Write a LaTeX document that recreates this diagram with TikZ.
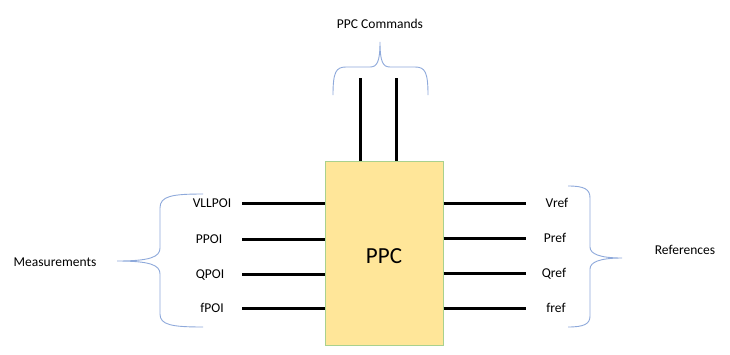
\documentclass[tikz,border=0pt]{standalone}
\usepackage{fontspec}
\setmainfont{Carlito}
\definecolor{boxfill}{HTML}{FFE699}
\definecolor{boxline}{HTML}{A9D18E}
\definecolor{bracecol}{HTML}{8EA9DB}
\begin{document}
\begin{tikzpicture}[x=1pt,y=-1pt,
  lbl/.style={font=\fontsize{13.5}{16}\selectfont, inner sep=0pt, anchor=base},
  sig/.style={line width=3pt, black},
  brc/.style={line width=0.9pt, bracecol}]
\useasboundingbox[fill=white] (0,0) rectangle (730,354);
% main block
\node[draw=boxline, fill=boxfill, line width=1pt, minimum width=118pt, minimum height=184pt, inner sep=0pt] (box) at (384,253) {};
\node[font=\fontsize{23}{26}\selectfont, inner sep=0pt] (ppc) at (384,256) {PPC};
% top commands
\node[lbl] (cmd) at (380,28) {PPC Commands};
\coordinate (c1) at (360,78);
\coordinate (c2) at (396,78);
\draw[sig] (c1) -- (c1 |- box.north);
\draw[sig] (c2) -- (c2 |- box.north);
\draw[brc] (333,95) .. controls (333,72) and (336,67) .. (346,67) -- (370,67)
  .. controls (377,67) and (380,62) .. (380,42)
  .. controls (380,62) and (383,67) .. (390,67) -- (415,67)
  .. controls (425,67) and (428,72) .. (428,95);
% left measurements
\node[lbl] (vll) at (212,207.5) {VLLPOI};
\node[lbl] (ppoi) at (209,243.5) {PPOI};
\node[lbl] (qpoi) at (210,278.5) {QPOI};
\node[lbl] (fpoi) at (212,312.5) {fPOI};
\coordinate (m1) at (242,203);
\coordinate (m2) at (242,239);
\coordinate (m3) at (242,274);
\coordinate (m4) at (242,308);
\draw[sig] (m1) -- (m1 -| box.west);
\draw[sig] (m2) -- (m2 -| box.west);
\draw[sig] (m3) -- (m3 -| box.west);
\draw[sig] (m4) -- (m4 -| box.west);
\node[lbl] (meas) at (55,266.5) {Measurements};
\draw[brc] (203,194) .. controls (172,194) and (160,196) .. (160,208) -- (160,248)
  .. controls (160,257) and (150,261) .. (117,261)
  .. controls (150,261) and (160,265) .. (160,274) -- (160,314)
  .. controls (160,325) and (172,327) .. (203,327);
% right references
\coordinate (r1) at (526,203);
\coordinate (r2) at (526,238);
\coordinate (r3) at (526,273);
\coordinate (r4) at (526,308);
\draw[sig] (r1 -| box.east) -- (r1);
\draw[sig] (r2 -| box.east) -- (r2);
\draw[sig] (r3 -| box.east) -- (r3);
\draw[sig] (r4 -| box.east) -- (r4);
\node[lbl] (vref) at (557,207.5) {Vref};
\node[lbl] (pref) at (555,242.5) {Pref};
\node[lbl] (qref) at (554,277.5) {Qref};
\node[lbl] (fref) at (556,312.5) {fref};
\node[lbl] (refs) at (685,254.5) {References};
\draw[brc] (568,186) .. controls (584,186) and (590,189) .. (590,198) -- (590,247)
  .. controls (590,254) and (600,258) .. (622,258)
  .. controls (600,258) and (590,262) .. (590,269) -- (590,316)
  .. controls (590,324) and (584,327) .. (568,327);
\end{tikzpicture}
\end{document}
